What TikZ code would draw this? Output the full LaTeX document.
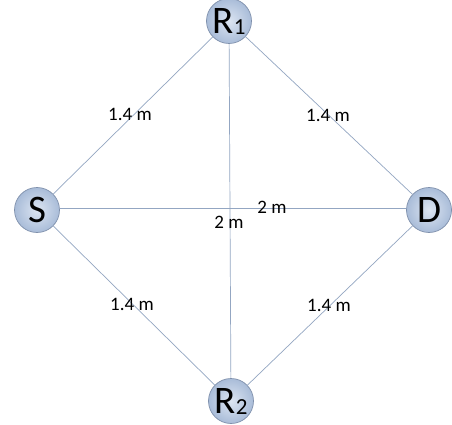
\documentclass[tikz,border=0pt]{standalone}
\usepackage{fontspec}
\setmainfont{Carlito}
\usepackage{tikz}
\definecolor{nodeedge}{HTML}{7F90AC}
\definecolor{nodein}{HTML}{DCE5F2}
\definecolor{nodeout}{HTML}{A9BCD8}
\definecolor{linkcol}{HTML}{93A6C2}
\begin{document}
\begin{tikzpicture}[x=1pt,y=-1pt,
  station/.style={circle,draw=nodeedge,line width=.7pt,
    inner color=nodein,outer color=nodeout,
    minimum size=45pt,inner sep=0pt,font=\fontsize{39}{39}\selectfont},
  link/.style={draw=linkcol,line width=.7pt},
  dist/.style={inner sep=0pt,font=\fontsize{19}{19}\selectfont}]
  \useasboundingbox[fill=white] (0,0) rectangle (452,425);
  \node[station] (r1) at (229,21) {R\raisebox{-1pt}{\fontsize{23}{23}\selectfont 1}};
  \node[station] (s) at (37,210) {S};
  \node[station] (d) at (429,210) {D};
  \node[station] (r2) at (231,401) {R\raisebox{-1pt}{\fontsize{23}{23}\selectfont 2}};
  \foreach \a/\b in {s/r1,r1/d,s/r2,r2/d,r1/r2}
    \draw[link] (\a) -- (\b);
  \draw[link] (s.east |- 0,208) -- (d.west |- 0,208);
  \node[dist] (l1) at (130,114) {1.4 m};
  \node[dist] (l2) at (328,115) {1.4 m};
  \node[dist] (l3) at (132,304) {1.4 m};
  \node[dist] (l4) at (329,305) {1.4 m};
  \node[dist] (l5) at (272,207) {2 m};
  \node[dist] (l6) at (229,222) {2 m};
\end{tikzpicture}
\end{document}
